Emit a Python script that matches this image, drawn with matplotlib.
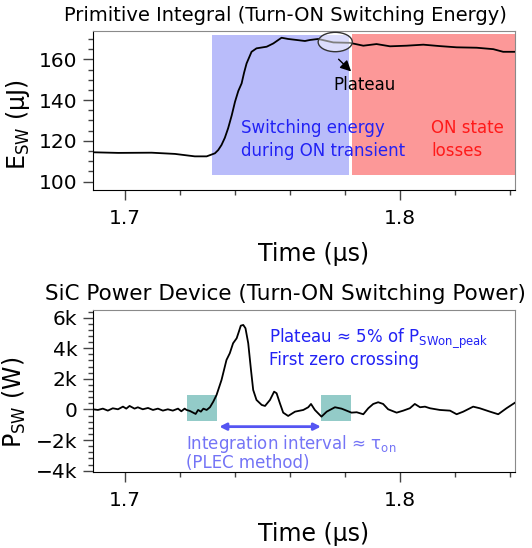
import matplotlib
matplotlib.use("Agg")
import matplotlib.pyplot as plt
from matplotlib.patches import Rectangle, Ellipse
from matplotlib.ticker import MultipleLocator, FuncFormatter

plt.rcParams['font.family'] = ['DejaVu Sans']
plt.rcParams['mathtext.default'] = 'regular'

# ---- data ----
# turn-on switching energy (primitive integral), time in us, energy in uJ
t_energy = [1.6885, 1.6976, 1.7097, 1.7182, 1.7254, 1.7297, 1.7327, 1.7339, 1.7351,
            1.7363, 1.7375, 1.7388, 1.7400, 1.7412, 1.7424, 1.7433, 1.7442, 1.7460,
            1.7478, 1.7515, 1.7539, 1.7569, 1.7593, 1.7624, 1.7654, 1.7672, 1.7702,
            1.7757, 1.7817, 1.7866, 1.7914, 1.7963, 1.8023, 1.8084, 1.8144, 1.8205,
            1.8278, 1.8338, 1.8374, 1.8418]
e_sw = [114.4, 114.1, 114.2, 113.6, 112.4, 112.4, 113.9, 115.5, 118.0,
        121.5, 126.2, 132.5, 139.2, 144.5, 148.2, 153.5, 158.0, 163.7,
        165.4, 166.2, 167.8, 170.6, 170.0, 169.5, 169.0, 169.5, 170.0,
        168.3, 168.1, 166.7, 167.5, 166.4, 166.7, 167.2, 166.5, 165.9,
        165.7, 165.0, 163.7, 163.7]

# turn-on switching power, time in us, power in W
t_power = [1.6884, 1.6902, 1.6920, 1.6938, 1.6956, 1.6975, 1.6993, 1.7005, 1.7017,
           1.7035, 1.7047, 1.7065, 1.7084, 1.7102, 1.7120, 1.7138, 1.7156, 1.7174,
           1.7193, 1.7205, 1.7217, 1.7224, 1.7236, 1.7248, 1.7257, 1.7266, 1.7276,
           1.7285, 1.7297, 1.7309, 1.7321, 1.7333, 1.7351, 1.7369, 1.7381, 1.7393,
           1.7406, 1.7414, 1.7421, 1.7430, 1.7438, 1.7448, 1.7458, 1.7466, 1.7478,
           1.7497, 1.7509, 1.7527, 1.7542, 1.7551, 1.7563, 1.7575, 1.7593, 1.7618,
           1.7648, 1.7666, 1.7676, 1.7690, 1.7714, 1.7733, 1.7763, 1.7787, 1.7799,
           1.7823, 1.7842, 1.7866, 1.7884, 1.7902, 1.7920, 1.7938, 1.7956, 1.7987,
           1.8011, 1.8035, 1.8053, 1.8072, 1.8090, 1.8108, 1.8144, 1.8181, 1.8205,
           1.8229, 1.8265, 1.8289, 1.8326, 1.8356, 1.8386, 1.8417]
p_sw = [11, -33, 54, -76, 76, 11, 185, 54, 229,
        54, 141, 11, 98, -33, 54, -76, 11, -76,
        54, -120, 54, -33, -98, -209, -294, -33, -144,
        52, -33, 144, 510, 948, 1928, 3235, 3673, 4327,
        4654, 5085, 5477, 5523, 5307, 4327, 2582, 1275, 621,
        294, 229, 621, 1163, 1059, 405, -209, -425, -144,
        -33, 144, 359, -33, -471, -144, 144, 52, -33,
        -209, -183, -314, 78, 359, 471, 359, 13, -209,
        -78, 78, 359, 144, 183, 78, -33, -78, -314,
        -144, 183, 78, -144, -314, 78, 444]

# shaded windows
on_transient = (1.7316, 1.7813)
on_state = (1.7825, 1.8416)
zero_windows = [(1.7224, 1.7333), (1.7711, 1.7821)]
integ_interval = (1.7343, 1.7712)

x_range = (1.6883, 1.8418)


def style_axis(ax):
    for side in ['top', 'right']:
        ax.spines[side].set_color('#8a8a8a')
    ax.tick_params(which='major', length=7, width=1, labelsize=14.5, pad=7, color='#444444')
    ax.tick_params(which='minor', length=3.8, width=1, color='#444444')
    ax.tick_params(axis='y', which='major', pad=4)
    ax.xaxis.set_major_locator(MultipleLocator(0.1))
    ax.xaxis.set_minor_locator(MultipleLocator(0.02))
    ax.xaxis.set_major_formatter(FuncFormatter(lambda v, p: f"{v:.1f}"))
    ax.set_xlim(*x_range)


fig = plt.figure(figsize=(5.32, 5.48), dpi=100)

# ---- top panel: switching energy ----
ax1 = fig.add_axes([0.1742, 0.6533, 0.7944, 0.2901])
style_axis(ax1)
ax1.add_patch(Rectangle((on_transient[0], 103.3), on_transient[1] - on_transient[0], 68.6,
                        facecolor='#b9bcfa', edgecolor='none', zorder=1))
ax1.add_patch(Rectangle((on_state[0], 103.3), on_state[1] - on_state[0], 69.1,
                        facecolor='#fc9898', edgecolor='none', zorder=1))
ax1.plot(t_energy, e_sw, color='black', lw=1.3, zorder=3)
ax1.add_patch(Ellipse((1.7764, 168.5), 0.0124, 9.5, facecolor=(1, 1, 1, 0.5),
                      edgecolor='#333333', lw=1, zorder=4))
ax1.annotate('', xy=(1.7829, 153.1), xytext=(1.7769, 161.0),
             arrowprops=dict(arrowstyle='-|>', color='black', lw=1, mutation_scale=16), zorder=5)
ax1.text(1.7757, 147.4, 'Plateau', fontsize=12, va='center', ha='left', color='black')
ax1.text(1.7423, 120.5, 'Switching energy\nduring ON transient', fontsize=12,
         color='#2222f5', va='center', ha='left', linespacing=1.35)
ax1.text(1.8112, 120.5, 'ON state\nlosses', fontsize=12,
         color='#ff1a1a', va='center', ha='left', linespacing=1.35)
ax1.set_ylim(95.9, 173.9)
ax1.yaxis.set_major_locator(MultipleLocator(20))
ax1.yaxis.set_minor_locator(MultipleLocator(5))
ax1.set_xlabel('Time (µs)', fontsize=17)
ax1.xaxis.set_label_coords(0.5225, -0.327)
ax1.set_ylabel('E$_\\mathrm{SW}$ (µJ)', fontsize=17)
ax1.yaxis.set_label_coords(-0.144, 0.41)
fig.text(0.5367, 0.9726, 'Primitive Integral (Turn-ON Switching Energy)',
         fontsize=14, ha='center', va='center')

# ---- bottom panel: switching power ----
ax2 = fig.add_axes([0.1742, 0.1392, 0.7944, 0.2951])
style_axis(ax2)
for w0, w1 in zero_windows:
    ax2.add_patch(Rectangle((w0, -750), w1 - w0, 1700,
                            facecolor='#93cbc8', edgecolor='none', zorder=1))
ax2.plot(t_power, p_sw, color='black', lw=1.3, zorder=3)
ax2.annotate('', xy=(integ_interval[0], -1124), xytext=(integ_interval[1], -1124),
             arrowprops=dict(arrowstyle='<|-|>', color='#5555f2', lw=2, mutation_scale=10,
                             shrinkA=0, shrinkB=0))
ax2.text(1.7221, -2250, 'Integration interval ≈ τ$_\\mathrm{on}$', fontsize=12,
         color='#7474f6', va='center', ha='left')
ax2.text(1.7221, -3510, '(PLEC method)', fontsize=12, color='#7474f6', va='center', ha='left')
ax2.text(1.7524, 4650, 'Plateau ≈ 5% of P$_\\mathrm{SWon\\_peak}$', fontsize=12,
         color='#2222f5', va='center', ha='left')
ax2.text(1.7524, 3235, 'First zero crossing', fontsize=12, color='#2222f5',
         va='center', ha='left')
ax2.set_ylim(-4070, 6500)
ax2.yaxis.set_major_locator(MultipleLocator(2000))
ax2.yaxis.set_minor_locator(MultipleLocator(400))


def kfmt(v, pos):
    if abs(v) < 1e-9:
        return '0'
    s = f"{abs(v) / 1000:g}k"
    return ('\u2212' + s) if v < 0 else s


ax2.yaxis.set_major_formatter(FuncFormatter(kfmt))
ax2.set_xlabel('Time (µs)', fontsize=17)
ax2.xaxis.set_label_coords(0.5225, -0.314)
ax2.set_ylabel('P$_\\mathrm{SW}$ (W)', fontsize=17)
ax2.yaxis.set_label_coords(-0.152, 0.427)
fig.text(0.5367, 0.4628, 'SiC Power Device (Turn-ON Switching Power)',
         fontsize=15.5, ha='center', va='center')

fig.savefig('out.png', dpi=100)
